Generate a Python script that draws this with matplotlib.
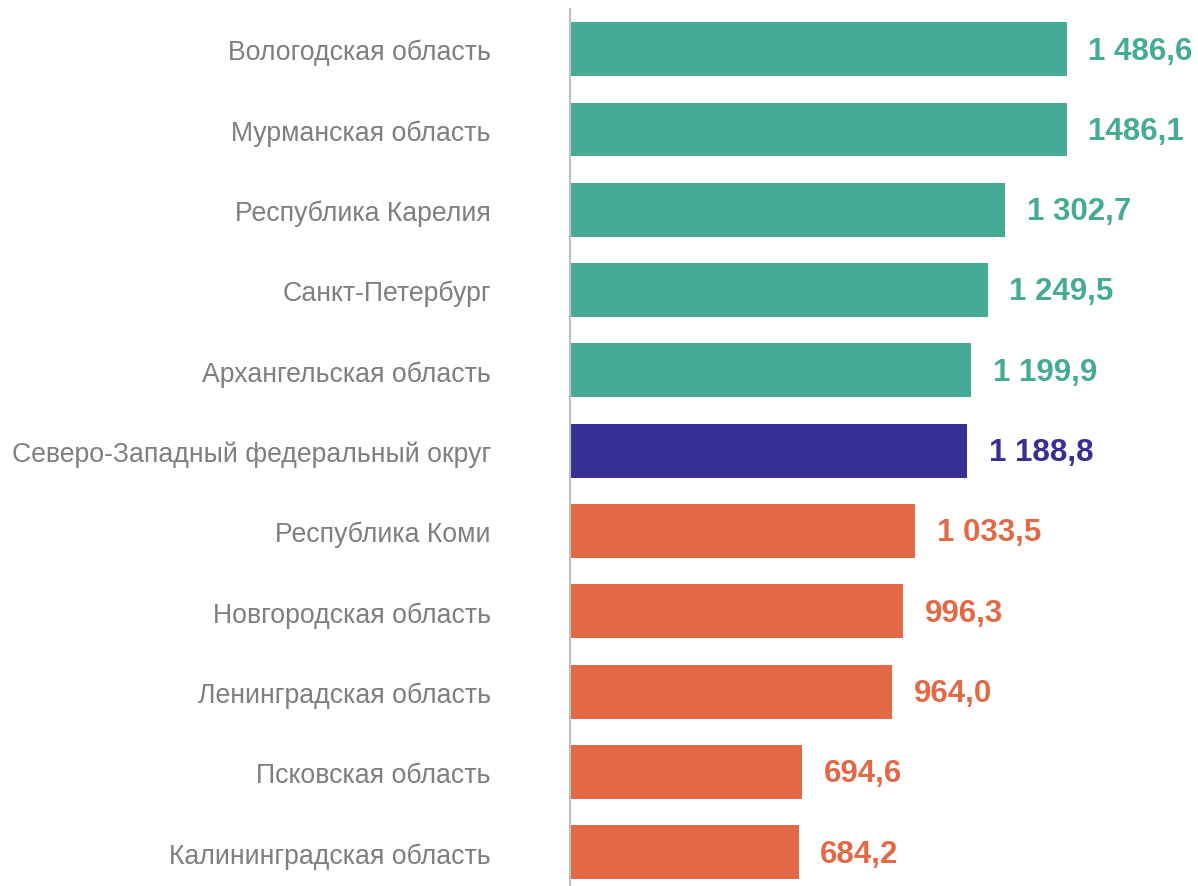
import matplotlib.pyplot as plt

plt.rcParams['font.family'] = ['Liberation Sans', 'DejaVu Sans']

# data
regions = [
    "Вологодская область",
    "Мурманская область",
    "Республика Карелия",
    "Санкт-Петербург",
    "Архангельская область",
    "Северо-Западный федеральный округ",
    "Республика Коми",
    "Новгородская область",
    "Ленинградская область",
    "Псковская область",
    "Калининградская область",
]
values = [1486.6, 1486.1, 1302.7, 1249.5, 1199.9, 1188.8, 1033.5, 996.3, 964.0, 694.6, 684.2]
value_labels = ["1 486,6", "1486,1", "1 302,7", "1 249,5", "1 199,9", "1 188,8",
                "1 033,5", "996,3", "964,0", "694,6", "684,2"]
groups = ["high"] * 5 + ["district"] + ["low"] * 5

colors = {"high": "#45AB97", "district": "#372F93", "low": "#E36946"}
bar_colors = [colors[g] for g in groups]

fig = plt.figure(figsize=(11.98, 8.87), dpi=100)
ax = fig.add_axes([570 / 1198, 0, 628 / 1198, 1 - 10 / 887])

y = list(range(len(regions)))
ax.barh(y, values, height=0.67, color=bar_colors)

ax.set_xlim(0, 628 / 0.3343)
ax.set_ylim(10.42, -0.5)

for yi, v, lab, c in zip(y, values, value_labels, bar_colors):
    ax.annotate(lab, (v, yi), xytext=(15.5, -1), textcoords='offset points',
                va='center', ha='left', fontsize=22.5, fontweight='bold', color=c)

ax.set_yticks(y)
ax.set_yticklabels(regions, fontsize=19.2, color='#7F7F7F')
ax.tick_params(axis='y', length=0, pad=57)
ax.set_xticks([])

for s in ['top', 'right', 'bottom']:
    ax.spines[s].set_visible(False)
ax.spines['left'].set_color('#BFBFBF')
ax.spines['left'].set_linewidth(1.5)

fig.savefig('out.png', dpi=100)
